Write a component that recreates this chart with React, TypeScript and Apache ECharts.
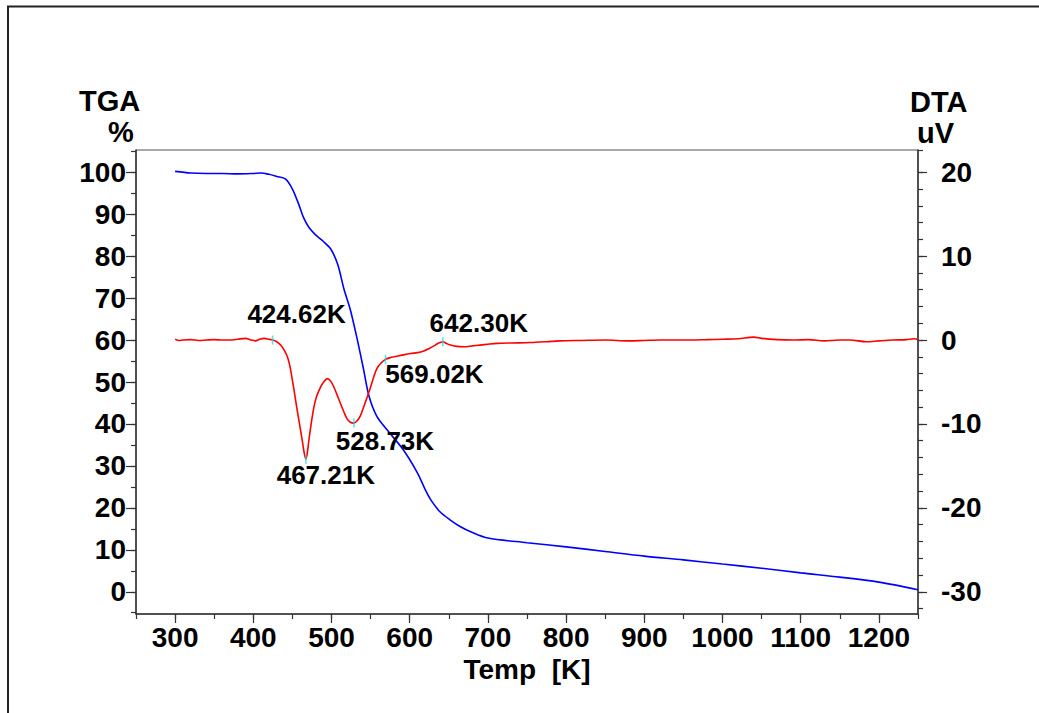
import React, { useEffect, useRef } from "react";
import * as echarts from "echarts";

// TGA curve (left axis, %)
const tgaTemp = [300, 320, 340, 360, 380, 400, 410, 420, 430, 441, 450, 458, 464, 471, 480, 489, 499, 508, 516, 524, 533, 541, 548, 558, 571, 592, 610, 620, 627, 639, 652, 665, 678, 700, 750, 800, 850, 900, 950, 1000, 1050, 1100, 1150, 1200, 1250];
const tgaValue = [100.2, 99.8, 99.7, 99.7, 99.6, 99.7, 99.8, 99.5, 99.0, 98.4, 96.0, 92.4, 89.3, 86.9, 85.0, 83.6, 81.7, 78.0, 72.1, 67.3, 60.1, 53.0, 46.6, 41.8, 38.6, 33.8, 28.3, 24.3, 21.9, 19.0, 17.1, 15.5, 14.3, 12.8, 11.7, 10.7, 9.6, 8.5, 7.6, 6.6, 5.6, 4.5, 3.5, 2.3, 0.5];

// DTA curve (right axis, uV)
const dtaTemp = [300, 305, 310, 320, 330, 340, 350, 360, 371, 380, 390, 397, 403, 408, 414, 420, 425, 430, 435, 440, 444, 447, 450, 453, 456, 460, 463, 465, 467.2, 469, 471, 474, 477.5, 481, 486, 490, 494.6, 499, 503, 507, 511.6, 516, 520, 524, 528.7, 533, 537, 541, 545.7, 550, 554, 558, 562.7, 569, 575, 580, 590, 601, 610, 618, 625, 631, 636, 642.3, 647, 652, 660, 669, 680, 690, 700, 712, 730, 754, 775, 792, 820, 850, 880, 900, 920, 950, 980, 1000, 1020, 1040, 1050, 1070, 1090, 1110, 1130, 1150, 1163, 1184, 1200, 1218, 1235, 1245, 1250];
const dtaValue = [0.1, -0.05, 0.0, 0.05, -0.05, 0.0, 0.05, 0.0, 0.0, 0.1, 0.2, 0.0, -0.1, 0.1, 0.2, 0.1, 0.0, -0.2, -0.6, -1.3, -2.1, -3.2, -4.8, -6.5, -8.3, -10.5, -12.2, -13.4, -14.2, -13.5, -12.0, -10.0, -8.0, -6.7, -5.6, -5.0, -4.6, -4.9, -5.6, -6.5, -7.6, -8.6, -9.4, -9.8, -9.9, -9.6, -9.0, -8.0, -6.8, -5.6, -4.4, -3.4, -2.8, -2.3, -2.1, -2.0, -1.8, -1.6, -1.5, -1.3, -1.0, -0.7, -0.4, -0.2, -0.4, -0.6, -0.75, -0.8, -0.7, -0.6, -0.5, -0.4, -0.35, -0.3, -0.2, -0.1, -0.05, 0.0, -0.1, -0.05, 0.0, 0.0, 0.05, 0.1, 0.15, 0.35, 0.2, 0.05, 0.0, 0.05, -0.1, 0.0, 0.0, -0.2, -0.1, 0.0, 0.05, 0.15, 0.05];

// Annotated DTA points
const peakTemp = [424.62, 467.21, 528.73, 569.02, 642.3];
const peakValue = [0.0, -14.2, -9.9, -2.3, -0.2];
const peakLabelOffset = [[24, -26], [20, 16], [31, 18], [49, 15], [36, -19]];

// Axis ticks
const xMajor = [300, 400, 500, 600, 700, 800, 900, 1000, 1100, 1200];
const tgaMajor = [0, 10, 20, 30, 40, 50, 60, 70, 80, 90, 100];
const tgaMinor = [-5, 0, 5, 10, 15, 20, 25, 30, 35, 40, 45, 50, 55, 60, 65, 70, 75, 80, 85, 90, 95, 100, 105];
const dtaMajor = [-30, -20, -10, 0, 10, 20];
const dtaMinor = [-32, -30, -28, -26, -24, -22, -20, -18, -16, -14, -12, -10, -8, -6, -4, -2, 0, 2, 4, 6, 8, 10, 12, 14, 16, 18, 20, 22.65];

const FONT = "'Liberation Sans', Arial, Helvetica, sans-serif";
const AXIS_COLOR = "#333";

export default function App() {
  const ref = useRef<HTMLDivElement>(null);
  useEffect(() => {
    const chart = echarts.init(ref.current!, null, { renderer: "svg" });
    const labelStyle = { color: "#000", fontSize: 28, fontWeight: "bold" as const, fontFamily: FONT };
    const plain = (v: number) => String(v);
    const option: any = {
      animation: false,
      backgroundColor: "#fff",
      grid: {
        left: 136, right: 121, top: 150, bottom: 99,
        show: true, borderColor: "#555", borderWidth: 1,
        containLabel: false, outerBoundsMode: "none",
      },
      xAxis: [
        {
          type: "value", min: 250, max: 1250, interval: 50, position: "bottom",
          axisLine: { show: true, onZero: false, lineStyle: { color: AXIS_COLOR, width: 1.5 } },
          axisTick: { show: true, length: 5, lineStyle: { color: AXIS_COLOR, width: 1.2 } },
          axisLabel: { show: false }, splitLine: { show: false },
        },
        {
          type: "value", min: 250, max: 1250, position: "bottom",
          axisLine: { show: false, onZero: false },
          axisTick: { show: true, length: 9, customValues: xMajor, lineStyle: { color: AXIS_COLOR, width: 1.2 } },
          axisLabel: { ...labelStyle, customValues: xMajor, margin: 9, formatter: plain },
          splitLine: { show: false },
          name: "Temp  [K]", nameLocation: "middle", nameGap: 37,
          nameTextStyle: { ...labelStyle },
        },
      ],
      yAxis: [
        {
          type: "value", min: -5.3, max: 105.3, position: "left",
          axisLine: { show: true, onZero: false, lineStyle: { color: AXIS_COLOR, width: 1.5 } },
          axisTick: { show: true, length: 5, customValues: tgaMinor, lineStyle: { color: AXIS_COLOR, width: 1.2 } },
          axisLabel: { show: false }, splitLine: { show: false },
        },
        {
          type: "value", min: -5.3, max: 105.3, position: "left",
          axisLine: { show: false, onZero: false },
          axisTick: { show: true, length: 10, customValues: tgaMajor, lineStyle: { color: AXIS_COLOR, width: 1.2 } },
          axisLabel: { ...labelStyle, customValues: tgaMajor, margin: 10, formatter: plain },
          splitLine: { show: false },
        },
        {
          type: "value", min: -32.65, max: 22.65, position: "right",
          axisLine: { show: true, onZero: false, lineStyle: { color: AXIS_COLOR, width: 1.5 } },
          axisTick: { show: true, length: 5, customValues: dtaMinor, lineStyle: { color: AXIS_COLOR, width: 1.2 } },
          axisLabel: { show: false }, splitLine: { show: false },
        },
        {
          type: "value", min: -32.65, max: 22.65, position: "right",
          axisLine: { show: false, onZero: false },
          axisTick: { show: true, length: 9, customValues: dtaMajor, lineStyle: { color: AXIS_COLOR, width: 1.2 } },
          axisLabel: { ...labelStyle, customValues: dtaMajor, margin: 23, formatter: plain },
          splitLine: { show: false },
        },
      ],
      series: [
        {
          type: "line", name: "TGA", xAxisIndex: 0, yAxisIndex: 0, symbol: "none", smooth: 0.3,
          lineStyle: { color: "#0000ff", width: 1.6 },
          data: tgaTemp.map((t, i) => [t, tgaValue[i]]),
        },
        {
          type: "line", name: "DTA", xAxisIndex: 0, yAxisIndex: 2, symbol: "none", smooth: 0.3,
          lineStyle: { color: "#ff0000", width: 1.6 },
          data: dtaTemp.map((t, i) => [t, dtaValue[i]]),
        },
        {
          type: "scatter", name: "Peaks", xAxisIndex: 0, yAxisIndex: 2,
          symbol: "rect", symbolSize: [1.5, 9],
          itemStyle: { color: "#22dddd" },
          emphasis: { disabled: true },
          data: peakTemp.map((t, i) => ({
            value: [t, peakValue[i]],
            label: {
              show: true,
              position: "inside",
              offset: peakLabelOffset[i],
              formatter: `${t.toFixed(2)}K`,
              color: "#000", textBorderWidth: 0, opacity: 1,
              fontSize: 26, fontWeight: "bold", fontFamily: FONT,
            },
          })),
          z: 5,
        },
      ],
      graphic: [
        {
          type: "rect", silent: true,
          shape: { x: 8, y: 6.5, width: 1200, height: 900 },
          style: { fill: "none", stroke: "#222", lineWidth: 2 },
        },
        {
          type: "text", left: 79, top: 86,
          style: { text: "TGA", fill: "#000", font: `bold 29px ${FONT}` },
        },
        {
          type: "text", left: 108, top: 117,
          style: { text: "%", fill: "#000", font: `bold 29px ${FONT}` },
        },
        {
          type: "text", left: 910, top: 87,
          style: { text: "DTA", fill: "#000", font: `bold 29px ${FONT}` },
        },
        {
          type: "text", left: 917, top: 118,
          style: { text: "uV", fill: "#000", font: `bold 29px ${FONT}` },
        },
      ],
    };
    chart.setOption(option);
    return () => chart.dispose();
  }, []);
  return (
    <div style={{ position: "fixed", left: 0, top: 0, width: 1039, height: 713, background: "#fff" }}>
      <div ref={ref} style={{ width: 1039, height: 713 }} />
    </div>
  );
}
